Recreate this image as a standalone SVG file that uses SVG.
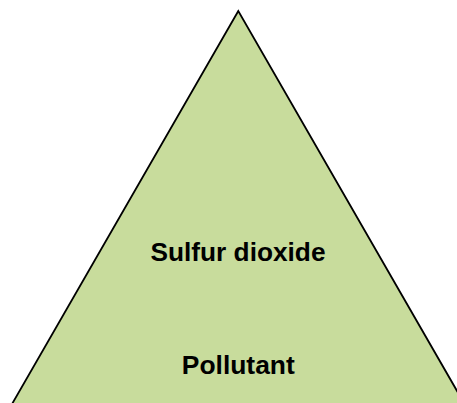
<svg xmlns="http://www.w3.org/2000/svg" width="457" height="403" viewBox="0 0 457 403">
<style>
.lbl{font-family:"Liberation Sans",Arial,sans-serif;font-weight:bold;font-size:25px;fill:#000;text-anchor:middle}
</style>
<rect width="457" height="403" fill="#fff"/>
<g id="triangle">
<polygon points="238.3,11 8,411 468.6,411" fill="#C8DC9C" stroke="#000" stroke-width="1.8" stroke-linejoin="miter"/>
<text class="lbl" x="238" y="261" textLength="175" lengthAdjust="spacingAndGlyphs">Sulfur dioxide</text>
<text class="lbl" x="238.3" y="374" textLength="113" lengthAdjust="spacingAndGlyphs">Pollutant</text>
</g>
</svg>
